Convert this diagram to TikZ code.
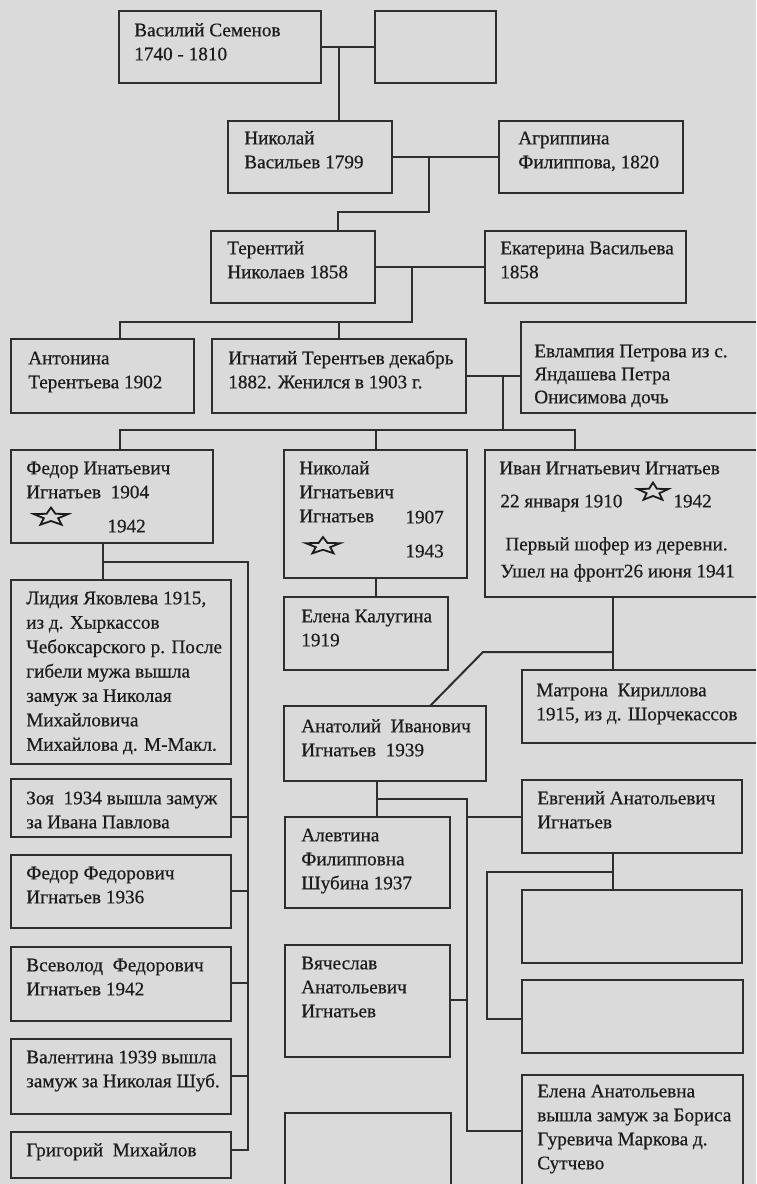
\documentclass[tikz,border=0pt]{standalone}
\usepackage{fontspec}
\setmainfont{Liberation Serif}[FakeBold=0.5]
\usetikzlibrary{fit}
\definecolor{bg}{HTML}{DADADA}
\definecolor{ln}{HTML}{2E2E2E}
\definecolor{tx}{HTML}{1C1C1C}
\begin{document}
\begin{tikzpicture}[x=0.5pt,y=-0.5pt,
  box/.style={draw=ln, line width=1.1pt, fill=bg, inner sep=0pt},
  txt/.style={anchor=north west, inner sep=0pt, align=left, text=tx, font=\fontsize{9.6}{12}\selectfont},
  conn/.style={draw=ln, line width=1pt},
  starline/.style={draw=tx, line width=0.9pt, line join=miter}]
\fill[bg] (0,0) rectangle (756,1184);
\clip (0,0) rectangle (756,1184);
\useasboundingbox (0,0) rectangle (756,1184);

% ---------- boxes ----------
\node[box, fit={(119,11) (321,83)}] (vas) {};
\node[box, fit={(375,11) (496,83)}] (emp1) {};
\node[box, fit={(228,121) (392,193)}] (nik) {};
\node[box, fit={(499,121) (683,193)}] (agr) {};
\node[box, fit={(211,231) (375,303)}] (ter) {};
\node[box, fit={(485,231) (686,303)}] (eka) {};
\node[box, fit={(11,339) (194,413)}] (ant) {};
\node[box, fit={(212,339) (466,413)}] (ign) {};
\node[box, fit={(521,322) (775,413)}] (evl) {};
\node[box, fit={(11,450) (213,543)}] (fed) {};
\node[box, fit={(284,450) (467,578)}] (nki) {};
\node[box, fit={(485,450) (775,597)}] (iva) {};
\node[box, fit={(11,580) (231,764)}] (lid) {};
\node[box, fit={(284,597) (448,670)}] (elk) {};
\node[box, fit={(522,670) (775,743)}] (mat) {};
\node[box, fit={(284,706) (486,781)}] (ana) {};
\node[box, fit={(11,779) (231,837)}] (zoy) {};
\node[box, fit={(11,855) (231,928)}] (ffe) {};
\node[box, fit={(11,947) (231,1021)}] (vse) {};
\node[box, fit={(11,1039) (231,1114)}] (val) {};
\node[box, fit={(11,1132) (231,1178)}] (gri) {};
\node[box, fit={(285,817) (450,908)}] (ale) {};
\node[box, fit={(522,780) (742,853)}] (evg) {};
\node[box, fit={(522,890) (742,963)}] (em2) {};
\node[box, fit={(522,980) (743,1053)}] (em3) {};
\node[box, fit={(285,945) (450,1057)}] (vya) {};
\node[box, fit={(285,1113) (451,1198)}] (em4) {};
\node[box, fit={(522,1075) (743,1198)}] (ela) {};

% ---------- texts ----------
\node[txt] (vasT) at ([shift={(16,10)}]vas.north west) {\rule{0pt}{8pt}Василий Семенов\\1740 - 1810};
\node[txt] (nikT) at ([shift={(17,8)}]nik.north west) {\rule{0pt}{8pt}Николай\\Васильев 1799};
\node[txt] (agrT) at ([shift={(20,8)}]agr.north west) {\rule{0pt}{8pt}Агриппина\\Филиппова, 1820};
\node[txt] (terT) at ([shift={(17,8)}]ter.north west) {\rule{0pt}{8pt}Терентий\\Николаев 1858};
\node[txt] (ekaT) at ([shift={(16,8)}]eka.north west) {\rule{0pt}{8pt}Екатерина Васильева\\1858};
\node[txt] (antT) at ([shift={(18,10)}]ant.north west) {\rule{0pt}{8pt}Антонина\\Терентьева 1902};
\node[txt] (ignT) at ([shift={(17,10)}]ign.north west) {\rule{0pt}{8pt}Игнатий Терентьев декабрь\\1882. Женился в 1903 г.};
\node[txt, font=\fontsize{9.6}{11.5}\selectfont] (evlT) at ([shift={(14,20)}]evl.north west) {\rule{0pt}{8pt}Евлампия Петрова из с.\\Яндашева Петра\\Онисимова дочь};
\node[txt] (fedT) at ([shift={(16,9)}]fed.north west) {\rule{0pt}{8pt}Федор Инатьевич\\Игнатьев\ \ 1904};
\node[txt] (fedY) at (107,516) {\rule{0pt}{8pt}1942};
\node[txt] (nkiT) at ([shift={(16,9)}]nki.north west) {\rule{0pt}{8pt}Николай\\Игнатьевич\\Игнатьев};
\node[txt] (nkiA) at (405,507) {\rule{0pt}{8pt}1907};
\node[txt] (nkiB) at (405,541) {\rule{0pt}{8pt}1943};
\node[txt] (ivaT) at ([shift={(15,9)}]iva.north west) {\rule{0pt}{8pt}Иван Игнатьевич Игнатьев};
\node[txt] (ivaD) at (500,491) {\rule{0pt}{8pt}22 января 1910};
\node[txt] (ivaY) at (673,491) {\rule{0pt}{8pt}1942};
\node[txt, font=\fontsize{9.6}{13.5}\selectfont] (ivaN) at (500,534) {\rule{0pt}{8pt}\hspace{2.5pt}Первый шофер из деревни.\\Ушел на фронт26 июня 1941};
\node[txt, font=\fontsize{9.6}{12.2}\selectfont] (lidT) at ([shift={(16,9)}]lid.north west) {\rule{0pt}{8pt}Лидия Яковлева 1915,\\из д. Хыркассов\\Чебоксарского р. После\\гибели мужа вышла\\замуж за Николая\\Михайловича\\Михайлова д. М-Макл.};
\node[txt] (elkT) at ([shift={(18,10)}]elk.north west) {\rule{0pt}{8pt}Елена Калугина\\1919};
\node[txt] (matT) at ([shift={(15,11)}]mat.north west) {\rule{0pt}{8pt}Матрона\ \ Кириллова\\1915, из д. Шорчекассов};
\node[txt] (anaT) at ([shift={(18,11)}]ana.north west) {\rule{0pt}{8pt}Анатолий\ \ Иванович\\Игнатьев\ \ 1939};
\node[txt] (zoyT) at ([shift={(16,10)}]zoy.north west) {\rule{0pt}{8pt}Зоя\ \ 1934 вышла замуж\\за Ивана Павлова};
\node[txt] (ffeT) at ([shift={(16,9)}]ffe.north west) {\rule{0pt}{8pt}Федор Федорович\\Игнатьев 1936};
\node[txt] (vseT) at ([shift={(16,9)}]vse.north west) {\rule{0pt}{8pt}Всеволод\ \ Федорович\\Игнатьев 1942};
\node[txt] (valT) at ([shift={(16,9)}]val.north west) {\rule{0pt}{8pt}Валентина 1939 вышла\\замуж за Николая Шуб.};
\node[txt] (griT) at ([shift={(16,9)}]gri.north west) {\rule{0pt}{8pt}Григорий\ \ Михайлов};
\node[txt] (aleT) at ([shift={(17,9)}]ale.north west) {\rule{0pt}{8pt}Алевтина\\Филипповна\\Шубина 1937};
\node[txt] (evgT) at ([shift={(16,9)}]evg.north west) {\rule{0pt}{8pt}Евгений Анатольевич\\Игнатьев};
\node[txt] (vyaT) at ([shift={(17,9)}]vya.north west) {\rule{0pt}{8pt}Вячеслав\\Анатольевич\\Игнатьев};
\node[txt] (elaT) at ([shift={(16,7)}]ela.north west) {\rule{0pt}{8pt}Елена Анатольевна\\вышла замуж за Бориса\\Гуревича Маркова д.\\Сутчево};

% ---------- stars ----------
\draw[starline, shift={(51,517)}, xscale=18, yscale=-9.5]
  (90:1) -- (126:0.42) -- (162:1) -- (198:0.42) -- (234:1) -- (270:0.42) -- (306:1) -- (342:0.42) -- (18:1) -- (54:0.42) -- cycle;
\draw[starline, shift={(323,546)}, xscale=18, yscale=-9]
  (90:1) -- (126:0.42) -- (162:1) -- (198:0.42) -- (234:1) -- (270:0.42) -- (306:1) -- (342:0.42) -- (18:1) -- (54:0.42) -- cycle;
\draw[starline, shift={(653,492)}, xscale=16, yscale=-9.5]
  (90:1) -- (126:0.42) -- (162:1) -- (198:0.42) -- (234:1) -- (270:0.42) -- (306:1) -- (342:0.42) -- (18:1) -- (54:0.42) -- cycle;

% ---------- connectors ----------
\draw[conn] (vas.east) -- (emp1.west);
\coordinate (j1) at (339,48);
\draw[conn] (j1) -- (j1 |- nik.north);

\draw[conn] (nik.east) -- (agr.west);
\coordinate (j2) at (429,157);
\coordinate (k2) at (338,212);
\draw[conn] (j2) |- (k2) -- (k2 |- ter.north);

\draw[conn] (ter.east) -- (eka.west);
\coordinate (j3) at (412,267);
\coordinate (k3) at (412,322);
\coordinate (k3a) at (120,322);
\coordinate (k3b) at (339,322);
\draw[conn] (j3) -- (k3) -- (k3a) -- (k3a |- ant.north);
\draw[conn] (k3b) -- (k3b |- ign.north);

\draw[conn] (ign.east) -- (ign.east -| evl.west);
\coordinate (j4) at (503,376);
\coordinate (k4) at (503,430);
\coordinate (k4a) at (120,430);
\coordinate (k4b) at (376,430);
\coordinate (k4c) at (575,430);
\draw[conn] (j4) -- (k4);
\draw[conn] (k4a |- fed.north) -- (k4a) -- (k4c) -- (k4c |- iva.north);
\draw[conn] (k4b) -- (k4b |- nki.north);

% children of Fedor
\coordinate (f1) at (103,543);
\draw[conn] (f1) -- (f1 |- lid.north);
\coordinate (f2) at (103,562);
\coordinate (f3) at (248,562);
\coordinate (f4) at (248,1150);
\draw[conn] (f2) -- (f3) -- (f4) -- (f4 -| gri.east);
\coordinate (tz) at (248,817);
\coordinate (tf) at (248,891);
\coordinate (tv) at (248,983);
\coordinate (tl) at (248,1076);
\draw[conn] (tz) -- (tz -| zoy.east);
\draw[conn] (tf) -- (tf -| ffe.east);
\draw[conn] (tv) -- (tv -| vse.east);
\draw[conn] (tl) -- (tl -| val.east);

% Nikolai -> Elena Kalugina
\draw[conn] (nki.south) -- (nki.south |- elk.north);

% Ivan -> Matrona, Anatoly
\coordinate (i1) at (613,597);
\draw[conn] (i1) -- (i1 |- mat.north);
\coordinate (i2) at (613,652);
\coordinate (i3) at (483,652);
\coordinate (i4) at (430,706);
\draw[conn] (i2) -- (i3) -- (i4);

% Anatoly -> children
\coordinate (a1) at (377,781);
\draw[conn] (a1) -- (a1 |- ale.north);
\coordinate (a2) at (377,799);
\coordinate (a3) at (467,799);
\coordinate (a4) at (467,1131);
\draw[conn] (a2) -- (a3) -- (a4) -- (a4 -| ela.west);
\coordinate (a5) at (467,817);
\draw[conn] (a5) -- (a5 -| evg.west);
\coordinate (a6) at (467,1000);
\draw[conn] (a6) -- (a6 -| vya.east);

% Evgeny -> children
\coordinate (e1) at (613,853);
\draw[conn] (e1) -- (e1 |- em2.north);
\coordinate (e2) at (613,872);
\coordinate (e3) at (487,872);
\coordinate (e4) at (487,1019);
\draw[conn] (e2) -- (e3) -- (e4) -- (e4 -| em3.west);
\end{tikzpicture}
\end{document}
